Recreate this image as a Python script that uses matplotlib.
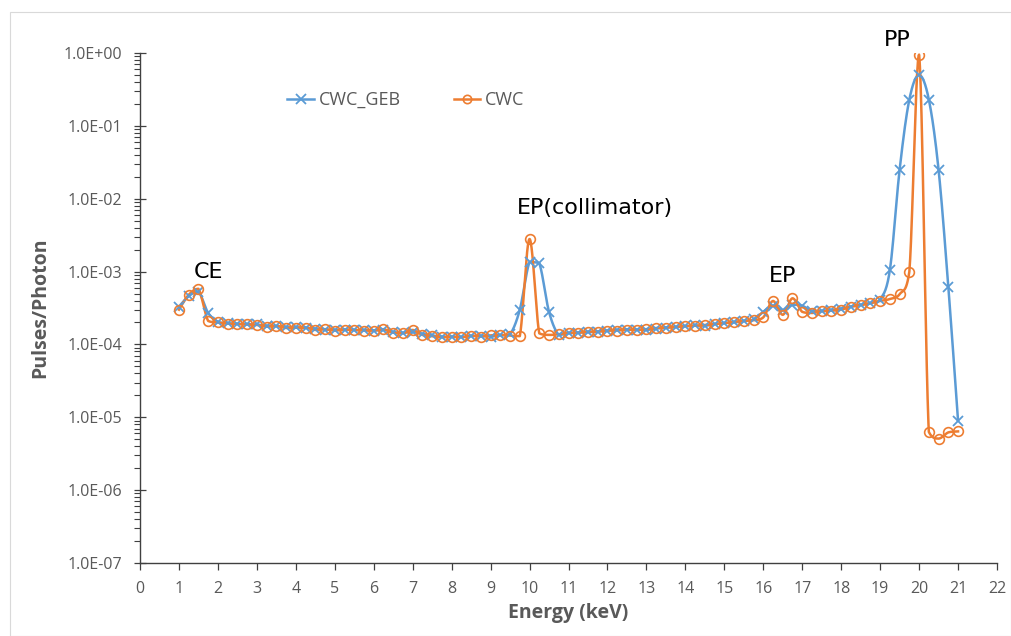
import numpy as np
import matplotlib
matplotlib.use("Agg")
import matplotlib.pyplot as plt
from matplotlib.ticker import FixedLocator, FuncFormatter, LogLocator, NullFormatter
from matplotlib.patches import Rectangle

energy = np.round(np.arange(1.0, 21.0001, 0.25), 2)

cwc_geb = [
    3.3e-4, 4.6e-4, 5.3e-4, 2.7e-4,      # 1.00 - 1.75
    2.05e-4, 1.95e-4, 1.92e-4, 1.9e-4,   # 2
    1.88e-4, 1.8e-4, 1.78e-4, 1.72e-4,   # 3
    1.72e-4, 1.7e-4, 1.65e-4, 1.6e-4,    # 4
    1.58e-4, 1.6e-4, 1.57e-4, 1.57e-4,   # 5
    1.55e-4, 1.58e-4, 1.48e-4, 1.45e-4,  # 6
    1.48e-4, 1.4e-4, 1.33e-4, 1.28e-4,   # 7
    1.28e-4, 1.27e-4, 1.3e-4, 1.32e-4,   # 8
    1.28e-4, 1.33e-4, 1.38e-4, 3.0e-4,   # 9
    1.35e-3, 1.3e-3, 2.8e-4, 1.35e-4,    # 10
    1.42e-4, 1.45e-4, 1.47e-4, 1.5e-4,   # 11
    1.55e-4, 1.58e-4, 1.6e-4, 1.6e-4,    # 12
    1.58e-4, 1.65e-4, 1.7e-4, 1.72e-4,   # 13
    1.78e-4, 1.82e-4, 1.8e-4, 1.9e-4,    # 14
    1.97e-4, 2.0e-4, 2.1e-4, 2.2e-4,     # 15
    2.8e-4, 3.4e-4, 2.95e-4, 3.5e-4,     # 16
    3.4e-4, 2.85e-4, 2.9e-4, 2.95e-4,    # 17
    3.1e-4, 3.3e-4, 3.5e-4, 3.7e-4,      # 18
    4.1e-4, 1.05e-3, 2.5e-2, 0.23,       # 19
    0.5, 0.23, 2.5e-2, 6.2e-4,           # 20
    9.0e-6,                              # 21
]

cwc = [
    3.0e-4, 4.8e-4, 5.8e-4, 2.1e-4,      # 1.00 - 1.75
    2.0e-4, 1.93e-4, 1.9e-4, 1.88e-4,    # 2
    1.85e-4, 1.75e-4, 1.8e-4, 1.68e-4,   # 3
    1.7e-4, 1.7e-4, 1.58e-4, 1.62e-4,    # 4
    1.55e-4, 1.6e-4, 1.58e-4, 1.55e-4,   # 5
    1.55e-4, 1.62e-4, 1.45e-4, 1.42e-4,  # 6
    1.58e-4, 1.35e-4, 1.3e-4, 1.25e-4,   # 7
    1.27e-4, 1.25e-4, 1.32e-4, 1.28e-4,  # 8
    1.33e-4, 1.35e-4, 1.32e-4, 1.3e-4,   # 9
    2.8e-3, 1.42e-4, 1.35e-4, 1.38e-4,   # 10
    1.45e-4, 1.45e-4, 1.5e-4, 1.5e-4,    # 11
    1.55e-4, 1.55e-4, 1.6e-4, 1.58e-4,   # 12
    1.62e-4, 1.68e-4, 1.7e-4, 1.75e-4,   # 13
    1.78e-4, 1.8e-4, 1.85e-4, 1.9e-4,    # 14
    1.95e-4, 2.05e-4, 2.1e-4, 2.15e-4,   # 15
    2.35e-4, 3.95e-4, 2.55e-4, 4.3e-4,   # 16
    2.8e-4, 2.7e-4, 2.85e-4, 2.9e-4,     # 17
    3.0e-4, 3.3e-4, 3.45e-4, 3.7e-4,     # 18
    3.95e-4, 4.2e-4, 4.9e-4, 1.0e-3,     # 19
    0.95, 6.3e-6, 5.1e-6, 6.2e-6,        # 20
    6.4e-6,                              # 21
]

x_ticks = list(range(0, 23))
y_major = [1e-7, 1e-6, 1e-5, 1e-4, 1e-3, 1e-2, 1e-1, 1e0]
annotations = [("CE", 1.75, 1.0e-3), ("EP(collimator)", 11.68, 7.5e-3),
               ("EP", 16.5, 8.7e-4), ("PP", 19.43, 1.5)]

BLUE = "#5B9BD5"
ORANGE = "#ED7D31"
GRAY = "#595959"

plt.rcParams['font.family'] = ['Open Sans', 'DejaVu Sans']


def smooth(xs, ys, n=24):
    """Excel-like smoothed line (Bezier through points) in (x, log10 y) space,
    control points kept within each segment's range to avoid overshoot."""
    xs = np.asarray(xs, float)
    ly = np.log10(np.asarray(ys, float))
    P = np.column_stack([xs, ly])
    out = []
    for i in range(len(P) - 1):
        p0 = P[i - 1] if i > 0 else P[i]
        p1 = P[i]
        p2 = P[i + 1]
        p3 = P[i + 2] if i + 2 < len(P) else P[i + 1]
        c1 = p1 + (p2 - p0) / 6.0
        c2 = p2 - (p3 - p1) / 6.0
        lo, hi = min(p1[1], p2[1]), max(p1[1], p2[1])
        c1[1] = np.clip(c1[1], lo, hi)
        c2[1] = np.clip(c2[1], lo, hi)
        t = np.linspace(0, 1, n, endpoint=(i == len(P) - 2))[:, None]
        b = ((1 - t) ** 3) * p1 + 3 * ((1 - t) ** 2) * t * c1 + 3 * (1 - t) * t ** 2 * c2 + t ** 3 * p2
        out.append(b)
    B = np.vstack(out)
    return B[:, 0], 10 ** B[:, 1]


fig = plt.figure(figsize=(10.11, 6.36), dpi=100)
fig.patches.append(Rectangle((10 / 1011, 0.0), 1 - 10 / 1011, 1 - 12 / 636,
                             transform=fig.transFigure, fill=False,
                             edgecolor="#D9D9D9", linewidth=0.8))
ax = fig.add_axes([140 / 1011, 1 - 563 / 636, (997 - 140) / 1011, (563 - 53) / 636])

for vals, col, mk, ms, mew in [(cwc_geb, BLUE, 'x', 7, 1.3),
                               (cwc, ORANGE, 'o', 7, 1.2)]:
    sx, sy = smooth(energy, vals)
    ax.plot(sx, sy, color=col, lw=1.8, zorder=3)
    ax.plot(energy, vals, linestyle='none', marker=mk, ms=ms, mew=mew,
            color=col, mfc='none', zorder=4)

# legend proxies
h1, = ax.plot([], [], color=BLUE, lw=1.8, marker='x', ms=7, mew=1.3)
h2, = ax.plot([], [], color=ORANGE, lw=1.8, marker='o', ms=6, mew=1.2, mfc='none')
leg = ax.legend([h1, h2], ['CWC_GEB', 'CWC'], loc='center',
                bbox_to_anchor=(406 / 1011, 1 - 100 / 636), bbox_transform=fig.transFigure,
                ncol=2, frameon=False, fontsize=13, handlelength=1.45,
                columnspacing=2.9, handletextpad=0.3)
for t in leg.get_texts():
    t.set_color(GRAY)

ax.set_yscale('log')
ax.set_xlim(0, 22)
ax.set_ylim(1e-7, 1e0)
ax.xaxis.set_major_locator(FixedLocator(x_ticks))
ax.yaxis.set_major_locator(FixedLocator(y_major))
ax.yaxis.set_minor_locator(LogLocator(base=10, subs=np.arange(2, 10), numticks=50))
ax.yaxis.set_minor_formatter(NullFormatter())
ax.yaxis.set_major_formatter(FuncFormatter(lambda v, p: f"{v:.1E}"))

for s in ['top', 'right']:
    ax.spines[s].set_visible(False)
for s in ['left', 'bottom']:
    ax.spines[s].set_color("#404040")
    ax.spines[s].set_linewidth(1.0)

ax.tick_params(axis='x', which='major', direction='out', length=5, width=0.9,
               color="#404040", labelsize=11.5, labelcolor=GRAY, pad=8)
ax.tick_params(axis='y', which='major', direction='inout', length=9, width=0.9,
               color="#404040", labelsize=11.5, labelcolor=GRAY, pad=8)
ax.tick_params(axis='y', which='minor', direction='out', length=4, width=0.8,
               color="#404040")

ax.set_xlabel("Energy (keV)", fontsize=14, fontweight='bold', color=GRAY, labelpad=4)
ax.set_ylabel("Pulses/Photon", fontsize=14, fontweight='bold', color=GRAY, labelpad=10)

for txt, xv, yv in annotations:
    ax.text(xv, yv, txt, ha='center', va='center', fontsize=16, color='black',
            family='DejaVu Sans', clip_on=False)

fig.savefig("out.png", dpi=100)
